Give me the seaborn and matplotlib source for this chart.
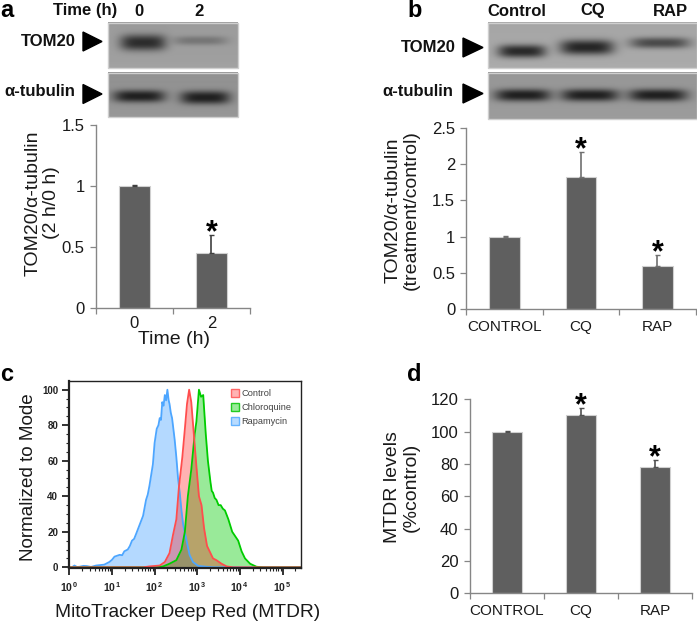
import numpy as np
import pandas as pd
import matplotlib
matplotlib.use("Agg")
import matplotlib.pyplot as plt
from matplotlib.patches import Patch, Polygon
from matplotlib.ticker import MultipleLocator, FixedLocator, NullFormatter
import seaborn as sns

# Bar chart values
time_labels = ["0", "2"]
time_ratio = [1.0, 0.45]
time_err = [0.005, 0.15]
treat_labels = ["CONTROL", "CQ", "RAP"]
tom20_ratio = [1.0, 1.82, 0.59]
tom20_err = [0.005, 0.35, 0.15]
mtdr_levels = [100, 110, 78]
mtdr_err = [0.3, 4.5, 4.5]

# Flow histogram, x is log10 of the intensity
rap_log = [0, .06, .12, .18, .24, .33, .41, .51, .63, .71, .82, .94, 1.0, 1.06, 1.12, 1.18, 1.24, 1.29, 1.37, 1.42, 1.47,
           1.52, 1.57, 1.65, 1.73, 1.80, 1.84, 1.88, 1.92, 1.96, 2.0, 2.05, 2.09, 2.12, 2.15, 2.18, 2.21, 2.24, 2.27, 2.30,
           2.33, 2.35, 2.38, 2.41, 2.47, 2.51, 2.55, 2.59, 2.63, 2.67, 2.75, 2.82, 2.90, 3.02, 3.22, 3.37, 5.44]
rap_y = [0, 0, 1, 0.2, 0.3, 0.8, 0.7, 0.2, 1, 1.2, 1.5, 3, 4.2, 6, 6.5, 7, 6.8, 9, 10, 12, 15,
         16, 19, 24, 29, 38, 41, 46, 52, 58, 70, 78, 80, 84, 83, 93, 91, 97, 94, 100,
         94, 92, 87, 84, 72, 62, 50, 42, 32, 24, 15, 7, 3, 0.8, 0.3, 0, 0]
ctrl_log = [0, 1.73, 1.88, 2.12, 2.24, 2.35, 2.43, 2.51, 2.57, 2.65, 2.71, 2.76, 2.81, 2.86, 2.92, 2.98, 3.04, 3.10, 3.16,
            3.23, 3.29, 3.37, 3.45, 3.57, 3.69, 3.84, 5.44]
ctrl_y = [0, 0, 0.5, 1, 3, 8, 18, 27, 45, 62, 78, 92, 100, 93, 75, 57, 40, 35, 22,
          12, 9, 5, 4, 2, 0.5, 0, 0]
cq_log = [0, 2.04, 2.2, 2.35, 2.51, 2.63, 2.71, 2.78, 2.86, 2.94, 2.98, 3.04, 3.09, 3.14, 3.2, 3.25, 3.31, 3.34, 3.37, 3.41,
          3.45, 3.5, 3.55, 3.6, 3.65, 3.73, 3.82, 3.96, 4.04, 4.12, 4.24, 4.39, 4.55, 5.44]
cq_y = [0, 0, 0.5, 2, 4, 10, 20, 40, 55, 75, 82, 100, 96, 97, 75, 60, 48, 43, 42, 39,
        38, 35, 35, 33, 32, 27, 20, 15, 9, 5, 2, 0.3, 0, 0]

# Blot bands: centre x, centre y, half width, half height, darkest grey
blot_a_top = [(143, 43, 23, 8, 45), (200, 41, 27, 4.5, 118)]
blot_a_low = [(139, 96.7, 26, 6, 32), (205, 98, 25, 6.5, 32)]
blot_b_top = [(522, 51.7, 24, 6.5, 42), (587, 47.7, 27, 7.5, 38), (660, 43.3, 30, 5.5, 75)]
blot_b_low = [(523, 95.7, 28, 6, 32), (590, 95.7, 29, 6, 32), (658, 95.7, 29.5, 6, 32)]

W, H = 697, 622
BAR = "#5f5f5f"
AXIS = "#868686"
TEXT = "#1a1a1a"

sns.set_theme(style="ticks")
plt.rcParams["font.family"] = ["Liberation Sans", "DejaVu Sans"]
plt.rcParams["mathtext.fontset"] = "custom"
plt.rcParams["mathtext.bf"] = "Liberation Sans:bold"
plt.rcParams["mathtext.rm"] = "Liberation Sans"

fig = plt.figure(figsize=(W / 100, H / 100), dpi=100)

# overlay in pixel coordinates for the blots and the labels round them
overlay = fig.add_axes([0, 0, 1, 1], zorder=5)
overlay.set_xlim(0, W)
overlay.set_ylim(H, 0)
overlay.axis("off")
overlay.patch.set_alpha(0)


def px_axes(x0, y0, x1, y1):
    return fig.add_axes([x0 / W, 1 - y1 / H, (x1 - x0) / W, (y1 - y0) / H])


def draw_blot(x0, y0, x1, y1, bg, bands):
    xs, ys = np.meshgrid(np.arange(x0, x1, 0.5), np.arange(y0, y1, 0.5))
    img = np.full(xs.shape, float(bg))
    img += (ys - y0) / (y1 - y0) * 6
    for cx, cy, hw, hh, dark in bands:
        shape = np.exp(-((np.abs(xs - cx) / hw) ** 4) - ((np.abs(ys - cy) / hh) ** 2.4))
        img = img - (img - dark) * shape
    overlay.imshow(img, cmap="gray", vmin=0, vmax=255, extent=(x0, x1, y1, y0), aspect="auto", interpolation="bilinear")
    overlay.plot([x0, x1, x1, x0, x0], [y0, y0, y1, y1, y0], color="#cfcfcf", lw=1)


def arrowhead(x0, x1, yc, half):
    overlay.add_patch(Polygon([(x0, yc - half), (x1, yc), (x0, yc + half)], color="black"))


def bar_panel(ax, labels, values, errs, ymax, step, stars, err_color, fmt=None):
    df = pd.DataFrame({"group": labels, "value": values})
    sns.barplot(data=df, x="group", y="value", color=BAR, saturation=1, width=0.4, edgecolor="#d0d0d0", linewidth=0.8, ax=ax)
    pos = np.arange(len(labels))
    zero = np.zeros(len(labels))
    ax.errorbar(pos, values, yerr=[zero, errs], fmt="none", ecolor=err_color, elinewidth=1.2, capsize=1.8, capthick=1, zorder=3)
    ax.set_xlim(-0.5, len(labels) - 0.5)
    ax.set_ylim(0, ymax)
    ax.yaxis.set_major_locator(MultipleLocator(step))
    if fmt:
        ax.yaxis.set_major_formatter(fmt)
    ax.xaxis.set_minor_locator(FixedLocator(np.arange(-0.5, len(labels), 1)))
    ax.xaxis.set_minor_formatter(NullFormatter())
    ax.tick_params(axis="x", which="major", length=0, labelsize=11, colors=TEXT, pad=8)
    ax.tick_params(axis="x", which="minor", length=4, width=0.9, color=AXIS)
    ax.tick_params(axis="y", length=4, width=0.9, color=AXIS, labelsize=12, labelcolor=TEXT, pad=4)
    ax.set_xlabel("")
    sns.despine(ax=ax)
    for s in ["left", "bottom"]:
        ax.spines[s].set_color(AXIS)
        ax.spines[s].set_linewidth(1)
    for i in stars:
        ax.annotate("*", (i, values[i] + errs[i]), xytext=(0, -9.5), textcoords="offset points",
                    ha="center", va="bottom", fontsize=22, fontweight="bold", color="black")


def num(v, _):
    return f"{v:g}"


# panel a
ax_a = px_axes(95.7, 125, 250, 307.7)
bar_panel(ax_a, time_labels, time_ratio, time_err, 1.5, 0.5, [1], "#404040", num)
ax_a.tick_params(axis="x", which="major", labelsize=12, pad=6)
ax_a.set_ylabel("TOM20/α-tubulin\n(2 h/0 h)", fontsize=14, color=TEXT, linespacing=1.12)
ax_a.yaxis.set_label_coords(60, 203, transform=overlay.transData)
ax_a.set_xlabel("Time (h)", fontsize=14, color=TEXT)
ax_a.xaxis.set_label_coords(174, 331, transform=overlay.transData)

# panel b
ax_b = px_axes(466.3, 128.3, 695.7, 308.7)
bar_panel(ax_b, treat_labels, tom20_ratio, tom20_err, 2.5, 0.5, [1, 2], "#707070", num)
ax_b.set_ylabel("TOM20/α-tubulin\n(treatment/control)", fontsize=14, color=TEXT, linespacing=1.12)
ax_b.yaxis.set_label_coords(420, 210, transform=overlay.transData)

# panel d
ax_d = px_axes(469.7, 399.3, 692.3, 593.3)
bar_panel(ax_d, treat_labels, mtdr_levels, mtdr_err, 120, 20, [1, 2], "#505050", num)
ax_d.set_ylabel("MTDR levels\n(%control)", fontsize=14, color=TEXT, linespacing=1.12)
ax_d.yaxis.set_label_coords(420, 487, transform=overlay.transData)

# panel c
ax_c = px_axes(69.3, 381, 301.3, 568)
ax_c.set_xscale("log")
curves = [
    (rap_log, rap_y, "#4da6ff", "#4da6ff", 0.42, "Rapamycin"),
    (cq_log, cq_y, "#00cc00", "#00cc00", 0.4, "Chloroquine"),
    (ctrl_log, ctrl_y, "#ff4d4d", "#ff0000", 0.3, "Control"),
]
for logs, ys, line, fill, alpha, name in curves:
    xs = 10.0 ** np.array(logs)
    ax_c.fill_between(xs, 0, ys, color=fill, alpha=alpha, lw=0)
    sns.lineplot(x=xs, y=ys, color=line, lw=1.3, errorbar=None, estimator=None, ax=ax_c)
ax_c.set_xlim(1, 10 ** 5.44)
ax_c.set_ylim(-0.4, 104.9)
ax_c.set_xticks([10.0 ** i for i in range(6)])
ax_c.set_xticklabels([r"$\mathbf{10}^{\,\mathbf{%d}}$" % i for i in range(6)])
ax_c.xaxis.set_minor_locator(matplotlib.ticker.LogLocator(base=10, subs=range(2, 10), numticks=12))
ax_c.xaxis.set_minor_formatter(NullFormatter())
ax_c.yaxis.set_major_locator(MultipleLocator(20))
ax_c.yaxis.set_minor_locator(MultipleLocator(5))
ax_c.tick_params(axis="x", which="major", length=5, width=1.3, color="#222222", labelsize=7.5, labelcolor="#222222", pad=4)
ax_c.tick_params(axis="x", which="minor", length=2.5, width=0.8, color="#222222")
ax_c.tick_params(axis="y", which="major", length=5, width=1.3, color="#222222", labelsize=7, labelcolor="#222222", pad=3)
ax_c.tick_params(axis="y", which="minor", length=2.5, width=0.8, color="#222222")
for lab in ax_c.get_yticklabels():
    lab.set_fontweight("bold")
for s in ax_c.spines.values():
    s.set_color("#222222")
    s.set_linewidth(1)
ax_c.spines["left"].set_linewidth(1.6)
ax_c.spines["bottom"].set_linewidth(1.6)
ax_c.set_ylabel("Normalized to Mode", fontsize=13.6, color=TEXT)
ax_c.yaxis.set_label_coords(37, 477, transform=overlay.transData)
ax_c.set_xlabel("MitoTracker Deep Red (MTDR)", fontsize=13.8, color=TEXT)
ax_c.xaxis.set_label_coords(188, 604, transform=overlay.transData)
handles = [
    Patch(facecolor="#ffb3b3", edgecolor="#ff6666", lw=1, label="Control"),
    Patch(facecolor="#99eb99", edgecolor="#22cc22", lw=1, label="Chloroquine"),
    Patch(facecolor="#b8dbff", edgecolor="#66b3ff", lw=1, label="Rapamycin"),
]
ax_c.legend(handles=handles, loc="upper left", bbox_to_anchor=(228, 386), bbox_transform=overlay.transData,
            frameon=False, fontsize=6.7, labelcolor="#444444", handlelength=0.85, handleheight=0.9,
            handletextpad=0.3, labelspacing=0.55, borderaxespad=0, borderpad=0.3)

# blots
draw_blot(108, 22.7, 238, 68.3, 155, blot_a_top)
draw_blot(108, 73.3, 238, 117.3, 145, blot_a_low)
draw_blot(488.3, 22.7, 697, 68.3, 165, blot_b_top)
draw_blot(488.3, 73.3, 697, 119.3, 150, blot_b_low)
overlay.set_xlim(0, W)
overlay.set_ylim(H, 0)
arrowhead(83, 102, 41.5, 9.5)
arrowhead(83, 102, 94, 9.5)
arrowhead(463, 483, 47.5, 9.5)
arrowhead(463, 483, 93.5, 9.5)

for x, y, s, ha in [(85, 11, "Time (h)", "center"), (139, 11, "0", "center"), (199, 11, "2", "center"),
                    (76, 41, "TOM20", "right"), (75, 92, "α-tubulin", "right"),
                    (517, 11, "Control", "center"), (593, 11, "CQ", "center"), (670, 11, "RAP", "center"),
                    (456, 48, "TOM20", "right"), (453, 92, "α-tubulin", "right")]:
    overlay.text(x, y, s, ha=ha, va="center", fontsize=12, fontweight="bold", color="#111111")

for x, y, s in [(0, 17, "a"), (407, 17, "b"), (0, 381, "c"), (407, 381, "d")]:
    overlay.text(x, y, s, ha="left", va="baseline", fontsize=17, fontweight="bold", color="black")

fig.savefig("out.png", dpi=100)
